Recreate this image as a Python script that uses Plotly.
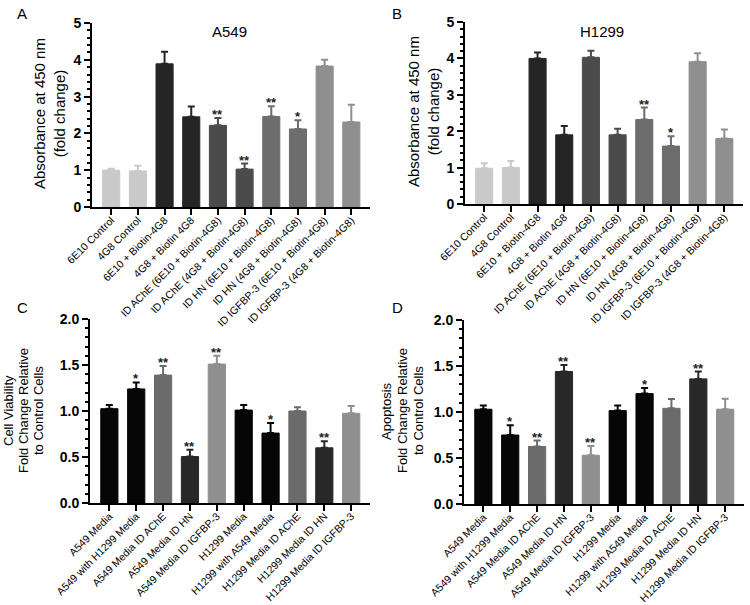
import plotly.graph_objects as go

# ---------------- data ----------------
cats_ab = ["6E10 Control", "4G8 Control", "6E10 + Biotin-4G8", "4G8 + Biotin 4G8",
           "ID AChE (6E10 + Biotin-4G8)", "ID AChE (4G8 + Biotin-4G8)",
           "ID HN (6E10 + Biotin-4G8)", "ID HN (4G8 + Biotin-4G8)",
           "ID IGFBP-3 (6E10 + Biotin-4G8)", "ID IGFBP-3 (4G8 + Biotin-4G8)"]
cats_cd = ["A549 Media", "A549 with H1299 Media", "A549 Media ID AChE", "A549 Media ID HN",
           "A549 Media ID IGFBP-3", "H1299 Media", "H1299 with A549 Media",
           "H1299 Media ID AChE", "H1299 Media ID HN", "H1299 Media ID IGFBP-3"]

a_vals = [1.00, 0.98, 3.89, 2.45, 2.22, 1.03, 2.46, 2.12, 3.83, 2.31]
a_errs = [0.04, 0.14, 0.33, 0.28, 0.20, 0.15, 0.28, 0.24, 0.17, 0.47]
a_sig = ["", "", "", "", "**", "**", "**", "*", "", ""]

b_vals = [0.98, 1.00, 4.00, 1.90, 4.03, 1.90, 2.32, 1.59, 3.91, 1.80]
b_errs = [0.14, 0.18, 0.16, 0.24, 0.18, 0.17, 0.33, 0.27, 0.23, 0.25]
b_sig = ["", "", "", "", "", "", "**", "*", "", ""]

c_vals = [1.025, 1.24, 1.39, 0.505, 1.51, 1.01, 0.76, 1.00, 0.60, 0.975]
c_errs = [0.04, 0.07, 0.10, 0.075, 0.09, 0.055, 0.11, 0.04, 0.07, 0.08]
c_sig = ["", "*", "**", "**", "**", "", "*", "", "**", ""]

d_vals = [1.03, 0.75, 0.625, 1.44, 0.53, 1.015, 1.20, 1.04, 1.36, 1.03]
d_errs = [0.04, 0.105, 0.065, 0.07, 0.10, 0.055, 0.06, 0.10, 0.08, 0.115]
d_sig = ["", "*", "**", "**", "**", "", "*", "", "**", ""]

colors_ab = ["#c9c9c9", "#c9c9c9", "#252525", "#252525", "#4b4b4b", "#4b4b4b",
             "#6d6d6d", "#6d6d6d", "#8f8f8f", "#8f8f8f"]
colors_cd = ["#060606", "#060606", "#6b6b6b", "#282828", "#8f8f8f",
             "#060606", "#060606", "#6b6b6b", "#282828", "#8f8f8f"]

FONT = "Liberation Sans, Arial, sans-serif"

fig = go.Figure()
annotations = []

panels = [
    ("x", "y", cats_ab, a_vals, a_errs, a_sig, colors_ab),
    ("x2", "y2", cats_ab, b_vals, b_errs, b_sig, colors_ab),
    ("x3", "y3", cats_cd, c_vals, c_errs, c_sig, colors_cd),
    ("x4", "y4", cats_cd, d_vals, d_errs, d_sig, colors_cd),
]

for xa, ya, cats, vals, errs, sig, cols in panels:
    for cat, v, e, s, col in zip(cats, vals, errs, sig, cols):
        fig.add_trace(go.Bar(
            x=[cat], y=[v], xaxis=xa, yaxis=ya, width=0.64,
            marker=dict(color=col, line=dict(color=col, width=1)),
            error_y=dict(type="data", symmetric=False, array=[e], arrayminus=[0],
                         color=col, thickness=2, width=3.5),
            showlegend=False, hoverinfo="skip"))
        if s:
            annotations.append(dict(
                x=cat, y=v + e, xref=xa, yref=ya, text="<b>" + s + "</b>",
                showarrow=False, yanchor="bottom", yshift=-6,
                font=dict(size=13, color="#222", family=FONT)))

def xaxis(domain):
    return dict(domain=domain, type="category", range=[-0.72, 9.7], automargin=False,
                showline=True, linewidth=2, linecolor="black",
                ticks="outside", ticklen=6, tickwidth=2, tickcolor="black",
                tickangle=-45, ticklabelstandoff=-5,
                tickfont=dict(size=10.5, color="black", family=FONT),
                showgrid=False, zeroline=False, fixedrange=True)

def yaxis(domain, anchor, rng, dtick, minor):
    return dict(domain=domain, anchor=anchor, range=rng, dtick=dtick, automargin=False,
                showline=True, linewidth=2, linecolor="black",
                ticks="outside", ticklen=6, tickwidth=2, tickcolor="black",
                minor=dict(dtick=minor, ticks="outside", ticklen=3, tickwidth=1.5,
                           tickcolor="black", showgrid=False),
                tickfont=dict(size=14, color="black", family=FONT, weight="bold"),
                showgrid=False, zeroline=False, fixedrange=True)

W, H = 750, 605
def px(a, b):
    return [a / W, b / W]
def py(top, bottom):
    return [1 - bottom / H, 1 - top / H]

fig.update_layout(
    width=W, height=H, margin=dict(l=0, r=0, t=0, b=0),
    paper_bgcolor="white", plot_bgcolor="white", barmode="overlay",
    font=dict(family=FONT, color="black"),
    xaxis=dict(xaxis(px(92, 370)), anchor="y"),
    yaxis=yaxis(py(23, 207), "x", [0, 5], 1, 0.2),
    xaxis2=dict(xaxis(px(465, 743)), anchor="y2"),
    yaxis2=yaxis(py(22, 204), "x2", [0, 5], 1, 0.2),
    xaxis3=dict(xaxis(px(90, 370)), anchor="y3"),
    yaxis3=dict(yaxis(py(319, 503), "x3", [0, 2], 0.5, 0.1), tickformat=".1f"),
    xaxis4=dict(xaxis(px(464, 744)), anchor="y4"),
    yaxis4=dict(yaxis(py(320, 504), "x4", [0, 2], 0.5, 0.1), tickformat=".1f"),
)

def ann(text, x, y, size, angle=0, weight="normal"):
    annotations.append(dict(text=text, x=x / W, y=1 - y / H,
                            xref="paper", yref="paper",
                            showarrow=False, xanchor="center", yanchor="middle",
                            textangle=angle,
                            font=dict(size=size, color="black", family=FONT, weight=weight)))

ann("A", 22, 13, 15)
ann("B", 397, 13, 15)
ann("C", 22, 307, 15)
ann("D", 397, 307, 15)
ann("A549", 230, 31, 15)
ann("H1299", 602, 31, 15)
ann("Absorbance at 450 nm<br>(fold change)", 49, 113, 15, -90)
ann("Absorbance at 450 nm<br>(fold change)", 424, 112, 15, -90)
for line, xc in zip(["Cell Viability", "Fold Change Relative", "to Control Cells"], [8, 23, 38]):
    ann(line, xc, 411, 13, -90)
for line, xc in zip(["Apoptosis", "Fold Change Relative", "to Control Cells"], [386, 402, 418]):
    ann(line, xc, 411, 13, -90)

fig.update_layout(annotations=annotations)
fig.write_html("out.html", config={"displayModeBar": False},
               post_script="document.body.style.margin='0';"
                           "document.documentElement.style.overflow='hidden';")
